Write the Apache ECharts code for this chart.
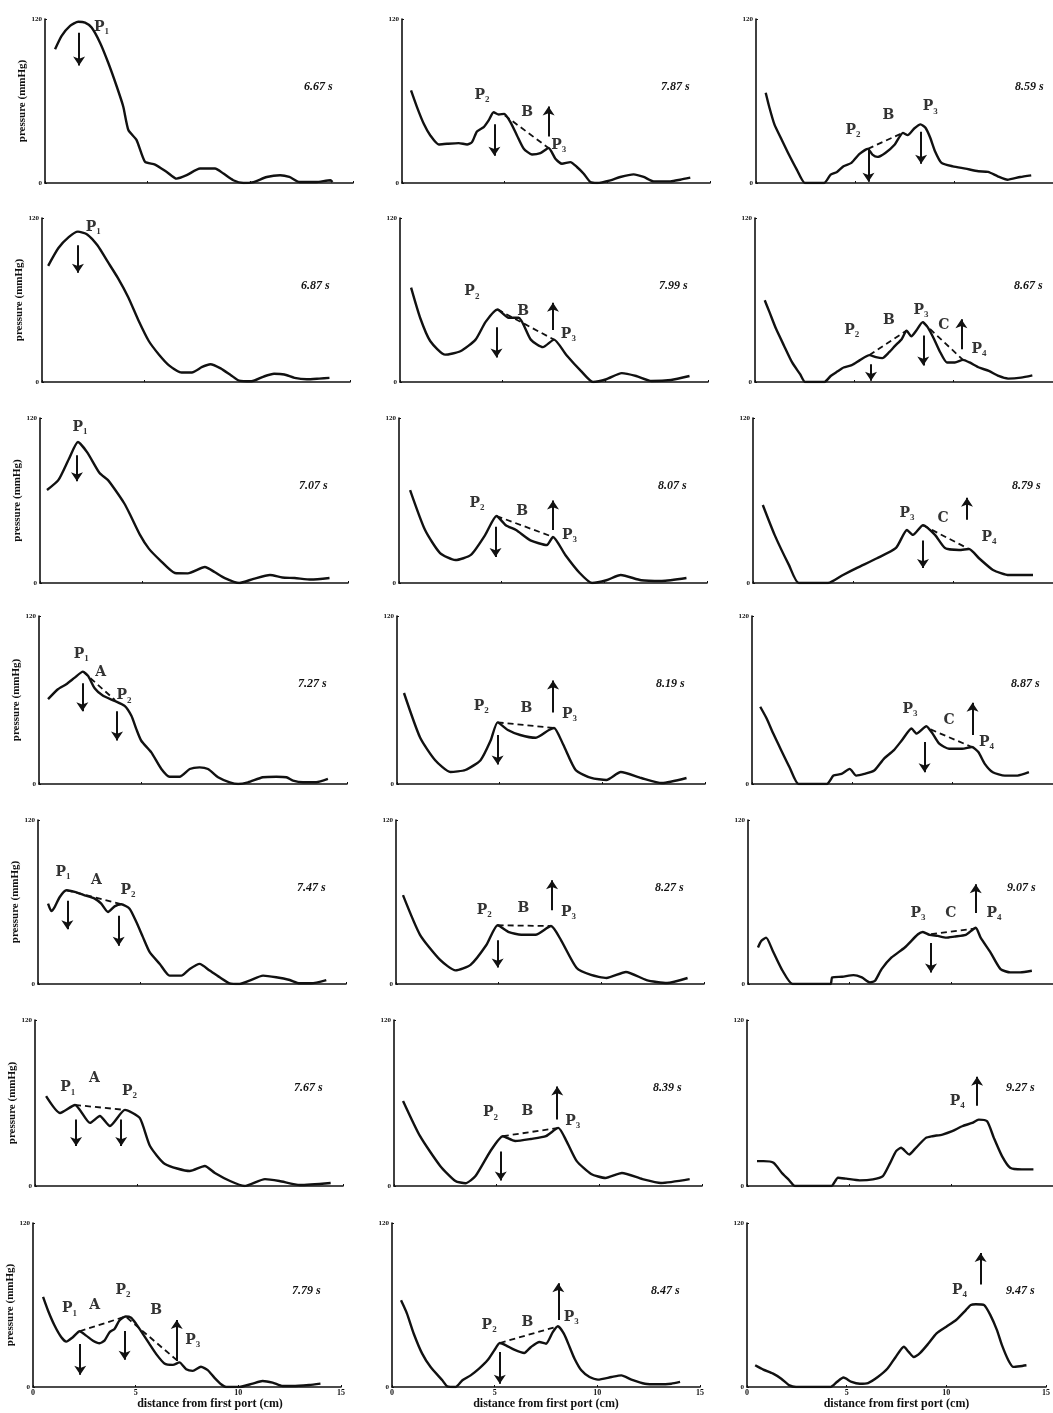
<!DOCTYPE html>
<html><head><meta charset="utf-8">
<script src="https://cdn.jsdelivr.net/npm/echarts@6/dist/echarts.min.js"></script>
<style>html,body{margin:0;padding:0;background:#fff}#c{width:1053px;height:1413px}</style>
</head><body><div id="c"></div>
<script>
// ---- times (panel titles), column by column ----
const times = ['6.67 s','6.87 s','7.07 s','7.27 s','7.47 s','7.67 s','7.79 s',
               '7.87 s','7.99 s','8.07 s','8.19 s','8.27 s','8.39 s','8.47 s',
               '8.59 s','8.67 s','8.79 s','8.87 s','9.07 s','9.27 s','9.47 s'];
const xTicks = [0, 5, 10, 15];
const yTicks = [0, 120];

// ---- pressure curves [distance cm, pressure mmHg] ----
const c667 = [[0.49,97.8],[0.81,107.6],[1.22,115],[1.62,118],[1.95,117.4],[2.27,113.8],[2.68,102.7],[3.08,88],[3.49,70.8],[3.81,56],[4.06,38.8],[4.46,31.4],[4.87,15.5],[5.36,13.5],[5.93,8.1],[6.41,3.2],[6.9,5.7],[7.55,10.6],[8.28,10.6],[8.69,6.9],[9.17,2],[9.66,0],[10.15,0.7],[10.8,4.4],[11.45,5.7],[11.9,4.4],[12.4,0.7],[13.2,0.7],[13.9,2],[14.0,0.7]];
const c687 = [[0.3,85],[0.8,98],[1.3,106],[1.75,110],[2.2,108],[2.7,100],[3.2,88],[3.7,76],[4.2,62],[4.7,45],[5.2,30],[5.7,20],[6.2,12],[6.8,7],[7.3,7],[7.8,11],[8.2,13],[8.7,10],[9.2,5],[9.6,1],[10.2,0.5],[10.8,4],[11.3,6],[11.8,5.5],[12.3,3],[12.9,2],[13.5,2.5],[14,3]];
const c707 = [[0.34,67.6],[0.9,75],[1.4,90],[1.85,102.5],[2.3,95],[2.9,80],[3.3,75],[3.65,68],[4.1,58],[4.38,50],[4.87,35],[5.3,25],[5.84,16.7],[6.57,7.3],[7.2,7],[8.03,11.6],[8.5,8],[9,3.6],[9.7,0],[10.4,3],[11.2,5.8],[11.8,4],[12.4,3.6],[13.2,2.5],[14.1,3.6]];
const c727 = [[0.44,60.6],[0.92,67.7],[1.33,71.3],[1.74,76],[2.14,80.3],[2.39,77.2],[2.71,68.4],[3.12,63],[3.68,59.4],[4.17,55.8],[4.5,48.7],[4.74,39.2],[4.98,30.9],[5.47,22.6],[5.96,10.7],[6.36,5.2],[6.85,5.2],[7.34,10.7],[7.82,11.9],[8.23,10.7],[8.72,4.8],[9.29,1.2],[9.7,0],[10.18,1.2],[10.9,4.8],[11.56,5.2],[12.05,4.8],[12.37,2.4],[12.86,1.2],[13.5,1.2],[14.07,3.6]];
const c747 = [[0.49,58.8],[0.65,53.4],[0.81,56.3],[1.06,63.7],[1.38,68.6],[1.79,67.4],[2.27,64.9],[2.76,62.5],[3.08,58.8],[3.41,52.7],[3.73,56.8],[4.06,58.3],[4.46,55.1],[4.79,45.3],[5.11,34.3],[5.44,23.3],[5.93,14.7],[6.41,6.1],[6.98,6.1],[7.39,11],[7.87,14.7],[8.36,9.8],[8.85,4.9],[9.33,0.5],[9.82,0],[10.3,2.4],[10.96,6.1],[11.6,4.9],[12.26,2.9],[12.74,0.5],[13.3,0.5],[14.04,2.9]];
const c767 = [[0.54,65],[1.22,52.8],[1.95,58.6],[2.68,45.6],[3.16,50.6],[3.65,43.4],[4.38,55],[5.1,49.2],[5.6,28.9],[6.33,15.9],[7.54,10.8],[8.27,14.5],[8.76,9.4],[9.5,3.6],[10.2,0],[11.2,5],[11.9,3.6],[12.9,0.7],[14.4,2.2]];
const c779 = [[0.49,65.9],[0.73,56],[1.05,45],[1.38,36.4],[1.62,33.2],[1.94,36.4],[2.27,40.8],[2.59,37.6],[2.92,33.9],[3.24,32],[3.48,33.9],[3.73,40.1],[3.97,42.5],[4.21,48.7],[4.51,51.6],[4.78,50.7],[5.02,46.2],[5.35,38.9],[5.67,31.5],[6.0,24.1],[6.4,17.2],[6.81,16.2],[7.13,18],[7.46,13],[7.78,11.8],[8.18,14.8],[8.51,12.3],[8.83,6.9],[9.16,2],[9.4,0],[10.05,0],[10.7,2.5],[11.18,4.4],[11.67,3.2],[12.16,0.7],[12.64,0.7],[13.45,1.5],[14.0,2.5]];
const c787 = [[0.44,67.7],[0.73,55.5],[1.06,43.3],[1.38,34.8],[1.79,28.2],[2.19,28.7],[2.76,29.2],[3.17,28.2],[3.41,29.9],[3.65,37.7],[3.98,40.9],[4.22,45.8],[4.46,51.8],[4.71,50.1],[4.98,50.6],[5.28,44.5],[5.6,34.8],[5.93,25.1],[6.33,20.9],[6.74,21.9],[7.14,25.6],[7.47,17.8],[7.79,14.1],[8.2,15.3],[8.52,11.7],[8.85,6.8],[9.17,0.7],[9.5,0],[10.15,1.9],[10.63,4.4],[11.28,6.3],[11.77,4.4],[12.26,1.2],[13.07,1.2],[13.55,2.4],[14.04,3.9]];
const c799 = [[0.54,69],[0.98,47],[1.47,30],[2.2,20],[2.94,22.5],[3.68,31],[4.17,44],[4.75,53],[5.29,47],[5.78,47],[6.37,31],[6.96,25.5],[7.5,31],[8.09,20],[8.82,8],[9.4,0],[10.05,2],[10.8,6.5],[11.5,4.4],[12.25,0.7],[13.2,1.5],[14.1,4.4]];
const c807 = [[0.54,67.6],[1.27,38.5],[2.0,21.8],[2.75,16.7],[3.5,20.4],[4.2,35],[4.75,48.7],[5.2,42],[5.7,38.5],[6.4,31],[7.2,27.6],[7.5,33.5],[8.1,20.4],[8.8,7.3],[9.4,0],[10.1,2],[10.8,5.8],[11.8,2],[12.8,1.5],[14.0,3.6]];
const c819 = [[0.34,65],[1.13,33],[1.86,17],[2.6,8.6],[3.33,10],[4.07,17],[4.56,31],[4.9,44],[5.4,38.6],[6.0,35],[6.76,33],[7.4,38.6],[7.65,40],[8.1,28],[8.7,10],[9.46,4.3],[10.2,2.9],[10.9,8.6],[11.9,4.3],[12.9,0.7],[14.1,4.3]];
const c827 = [[0.34,65],[1.17,36],[2.15,17.6],[2.9,10],[3.63,14],[4.4,28.5],[4.95,43],[5.5,38],[6.1,36],[6.8,36],[7.55,42.4],[8.04,32],[8.8,11.7],[9.5,6.6],[10.25,4.4],[11.2,8.8],[12.2,2.9],[13.2,0.7],[14.2,4.4]];
const c839 = [[0.44,61.5],[1.27,36],[2.25,14.5],[2.99,3.6],[3.48,2],[3.97,7.2],[4.7,25.3],[5.3,36],[5.9,32.5],[6.67,34],[7.4,36],[8.0,42],[8.4,32.5],[8.9,18],[9.6,8.7],[10.3,5.8],[11.1,9.4],[12.1,5],[13.0,2.2],[14.4,5]];
const c847 = [[0.44,63.4],[0.73,53.7],[1.06,39],[1.47,24.4],[1.88,14.6],[2.45,4.9],[2.69,0.5],[3.1,0],[3.43,4.9],[3.83,8.5],[4.24,13.4],[4.65,19.5],[4.98,26.8],[5.25,32.2],[5.55,30.5],[5.95,27.3],[6.44,24.9],[6.77,29.3],[7.18,32.9],[7.5,31.7],[7.83,40.2],[8.08,44.4],[8.37,39],[8.65,29.3],[8.89,20.7],[9.22,12.2],[9.62,7.3],[10.03,5.4],[10.69,7.3],[11.17,8.5],[11.66,5.4],[12.32,2.4],[12.97,2],[13.6,2.4],[14.03,3.7]];
const c859 = [[0.49,66.1],[0.68,55.1],[0.93,42.9],[1.25,33.1],[1.66,20.8],[2.06,9.8],[2.47,0],[2.95,0],[3.44,0],[3.77,6.1],[4.09,8.1],[4.42,12.2],[4.82,14.7],[5.23,21.3],[5.65,25],[5.88,20.8],[6.13,19.1],[6.53,22],[7.01,28.2],[7.42,36.7],[7.66,35],[7.99,39.9],[8.31,42.9],[8.56,40.4],[8.8,33.1],[9.04,23.3],[9.37,14.7],[9.94,12.2],[10.58,10.5],[11.23,8.6],[11.72,8.1],[12.21,4.9],[12.7,2.4],[13.34,4.4],[13.9,5.6]];
const c867 = [[0.49,59.8],[0.73,51.1],[1.06,38.9],[1.46,26.6],[1.87,14.3],[2.27,5.7],[2.52,0],[3.0,0],[3.49,0],[3.81,4.4],[4.14,7.6],[4.46,10.6],[4.87,12.3],[5.28,16],[5.76,19.7],[6.09,18.2],[6.41,17.5],[6.74,21.6],[7.06,26.6],[7.39,31.5],[7.63,37.6],[7.87,33.4],[8.12,37.6],[8.44,43.8],[8.69,40.1],[9.01,31.5],[9.33,21.6],[9.66,14.3],[10.06,14.3],[10.47,16.2],[10.8,14.3],[11.28,10.6],[11.77,8.1],[12.26,4.4],[12.74,2.5],[13.39,3.2],[13.96,4.9]];
const c879 = [[0.49,56.7],[1.08,35],[1.8,13],[2.29,0],[3.75,0],[4.5,5.8],[5.2,11],[6.2,18],[7.15,25.5],[7.7,38.5],[8.0,35],[8.5,42],[9.1,35],[9.6,25.5],[10.3,24],[10.8,24.7],[11.3,18],[12.0,9.5],[12.8,5.8],[14.0,5.8]];
const c887 = [[0.41,55.2],[0.73,46.8],[1.06,36],[1.46,24],[1.87,12],[2.32,0],[3.0,0],[3.73,0],[4.06,6],[4.46,7.2],[4.87,10.8],[5.19,6],[5.6,7.2],[6.09,9.6],[6.57,18],[7.06,24],[7.47,31.2],[7.95,39.6],[8.2,36],[8.69,41.3],[9.0,36],[9.33,28.8],[9.82,25.2],[10.47,25.2],[10.96,26.4],[11.28,22.8],[11.6,14.4],[12.0,8.4],[12.6,6],[13.23,6],[13.8,8.4]];
const c907 = [[0.49,26.7],[0.65,31.5],[0.89,33.9],[1.22,24.2],[1.7,9.7],[2.19,0],[3.17,0],[4.06,0],[4.14,4.8],[4.63,5.3],[5.19,6.5],[5.6,4.8],[6.0,1.2],[6.25,2.4],[6.57,10.9],[7.06,19.4],[7.71,26.7],[8.36,36.4],[8.6,38.1],[8.93,35.9],[9.33,35.2],[9.74,33.9],[10.15,34.7],[10.71,35.9],[11.2,41.2],[11.44,33.9],[11.93,23],[12.42,10.9],[12.9,8.5],[13.39,8.5],[13.96,9.7]];
const c927 = [[0.49,18],[0.81,18],[1.3,16.8],[1.7,9.6],[2.03,4.8],[2.35,0],[3.25,0],[4.14,0],[4.46,6],[4.87,5.3],[5.52,4.1],[6.17,4.8],[6.66,7.2],[6.98,15.6],[7.31,25.2],[7.55,27.6],[7.95,22.8],[8.28,27.6],[8.77,34.8],[9.09,36],[9.58,37.2],[10.06,39.6],[10.55,43.2],[11.04,45.6],[11.36,48],[11.77,46.8],[12.1,34.8],[12.5,21.6],[12.9,13.2],[13.47,12],[14.04,12]];
const c947 = [[0.41,15.9],[0.82,12.7],[1.31,9.8],[1.72,6.1],[2.13,1.2],[2.46,0],[3.28,0],[4.18,0],[4.51,3.7],[4.84,6.9],[5.25,3.7],[5.66,2.4],[6.07,2.9],[6.56,7.3],[7.05,13.5],[7.46,22],[7.87,29.4],[8.11,25.7],[8.36,22],[8.69,25],[9.1,31.8],[9.51,39.2],[10.0,44.1],[10.49,49],[10.98,56.3],[11.23,60],[11.48,60.5],[11.89,60],[12.21,52.6],[12.54,41.6],[12.79,30.6],[13.11,19.6],[13.36,14.7],[13.69,15.2],[14.02,15.9]];

// ---- dashed connecting lines between peaks (segments) ----
const d727 = [[[2.14,80.3],[3.7,60]]];
const d747 = [[[1.4,68.6],[4.06,58.3]]];
const d767 = [[[1.95,58.6],[4.38,55]]];
const d779 = [[[2.27,40.8],[4.51,51.6],[7.13,18]]];
const d787 = [[[5.0,49.5],[7.1,26]]];
const d799 = [[[4.75,53],[7.5,31]]];
const d807 = [[[4.75,48.7],[7.5,33.5]]];
const d819 = [[[4.9,44],[7.65,40]]];
const d827 = [[[4.95,43],[7.55,42.4]]];
const d839 = [[[5.3,36],[8.0,42]]];
const d847 = [[[5.25,32.2],[8.08,44.4]]];
const d859 = [[[5.65,25],[7.42,36.7]]];
const d867 = [[[5.76,19.7],[7.63,37.6]],[[8.44,43.8],[10.47,16.2]]];
const d879 = [[[8.5,42],[10.8,24.7]]];
const d887 = [[[8.9,39],[10.96,26.4]]];
const d907 = [[[9.0,36.4],[11.2,40.7]]];

// ---- arrows [distance, from pressure, to pressure] ----
const a667 = [[1.66,110,86]];
const a687 = [[1.75,100,80]];
const a707 = [[1.8,93,74]];
const a727 = [[2.11,72,52],[3.8,52,31]];
const a747 = [[1.43,61,40],[3.93,50,28]];
const a767 = [[2.0,48,29],[4.2,48,29]];
const a779 = [[2.3,31.5,9],[4.46,41,20],[7.0,19,49]];
const a787 = [[4.5,43,20],[7.14,34,56]];
const a799 = [[4.7,40,18],[7.45,38,58]];
const a807 = [[4.7,41,19],[7.5,38.5,60]];
const a819 = [[4.9,35,14],[7.6,51,74]];
const a827 = [[4.95,32,12],[7.6,54,76]];
const a839 = [[5.2,25,4],[7.95,48,72]];
const a847 = [[5.25,25.6,2.4],[8.1,49,76]];
const a859 = [[5.68,25,1],[8.34,37.5,14]];
const a867 = [[5.84,13,1],[8.47,34,12],[10.39,24,46]];
const a879 = [[8.5,31,11],[10.7,46,62]];
const a887 = [[8.6,30,8.4],[10.99,35,58]];
const a907 = [[9.0,30,8.5],[11.2,52,73]];
const a927 = [[11.28,58,79]];
const a947 = [[11.72,75,98]];

// ---- annotation letters [letter, subscript, distance, pressure] ----
const l667 = [['P','1',2.75,114]];
const l687 = [['P','1',2.5,113]];
const l707 = [['P','1',1.95,113]];
const l727 = [['P','1',2.06,92.6],['A','',3.0,79.6],['P','2',4.14,63]];
const l747 = [['P','1',1.22,82],['A','',2.84,76],['P','2',4.38,68.6]];
const l767 = [['P','1',1.6,71],['A','',2.9,78],['P','2',4.6,68.7]];
const l779 = [['P','1',1.78,57.3],['A','',3.0,59.8],['P','2',4.38,70.8],['B','',6.0,56],['P','3',7.78,34]];
const l787 = [['P','2',3.9,64],['B','',6.1,51.8],['P','3',7.63,27.5]];
const l799 = [['P','2',3.5,66],['B','',6.0,52],['P','3',8.2,35]];
const l807 = [['P','2',3.8,58],['B','',6.0,52],['P','3',8.3,35]];
const l819 = [['P','2',4.1,55.7],['B','',6.3,54],['P','3',8.4,50]];
const l827 = [['P','2',4.3,54],['B','',6.2,55.6],['P','3',8.4,52.7]];
const l839 = [['P','2',4.7,53],['B','',6.5,54],['P','3',8.7,47]];
const l847 = [['P','2',4.73,45],['B','',6.6,47.6],['P','3',8.73,51.2]];
const l859 = [['P','2',4.9,38.7],['B','',6.69,49.7],['P','3',8.8,55.8]];
const l867 = [['P','2',4.87,37.6],['B','',6.74,45],['P','3',8.36,52.4],['C','',9.5,41.3],['P','4',11.28,24.1]];
const l879 = [['P','3',7.7,51],['C','',9.5,47],['P','4',11.8,33.5]];
const l887 = [['P','3',7.87,53.3],['C','',9.82,45.6],['P','4',11.69,30]];
const l907 = [['P','3',8.36,52],['C','',9.98,52],['P','4',12.1,52]];
const l927 = [['P','4',10.31,61.2]];
const l947 = [['P','4',10.66,71]];

const curves = [c667,c687,c707,c727,c747,c767,c779,c787,c799,c807,c819,c827,c839,c847,c859,c867,c879,c887,c907,c927,c947];
const dashes = [[],[],[],d727,d747,d767,d779,d787,d799,d807,d819,d827,d839,d847,d859,d867,d879,d887,d907,[],[]];
const arrows = [a667,a687,a707,a727,a747,a767,a779,a787,a799,a807,a819,a827,a839,a847,a859,a867,a879,a887,a907,a927,a947];
const letters = [l667,l687,l707,l727,l747,l767,l779,l787,l799,l807,l819,l827,l839,l847,l859,l867,l879,l887,l907,l927,l947];

// ---- layout ----
const colLefts = [[45,42,40,39,38,35,33],[402,400,399,397,396,394,392],[756,755,753,752,748,747,747]];
const rowTops = [19,218,418,616,820,1020,1223];
const rowBottoms = [183,382,583,784,984,1186,1387];
const W = 308;
const INK = '#111';
const serif = '"Liberation Serif","DejaVu Serif",serif';
const slab = '"DejaVu Serif","Liberation Serif",serif';

const grid = [], xAxis = [], yAxis = [], series = [], graphic = [];
for (let c = 0; c < 3; c++) {
  for (let r = 0; r < 7; r++) {
    const i = c * 7 + r;
    const left = colLefts[c][r], top = rowTops[r], h = rowBottoms[r] - rowTops[r];
    grid.push({left: left, top: top, width: W, height: h});
    const bottomRow = r === 6;
    xAxis.push({
      gridIndex: i, type: 'value', min: xTicks[0], max: xTicks[xTicks.length-1], interval: 5,
      axisLine: {show: true, onZero: false, lineStyle: {color: INK, width: 1.6}},
      axisTick: {show: true, length: 2, inside: true, lineStyle: {color: INK}},
      axisLabel: {show: bottomRow, fontSize: 8, fontWeight: 'bold', fontFamily: serif, color: INK, margin: 2},
      splitLine: {show: false},
      name: bottomRow ? 'distance from first port (cm)' : '',
      nameLocation: 'middle', nameGap: 11,
      nameTextStyle: {fontSize: 12, fontWeight: 'bold', fontFamily: serif, color: INK,
        padding: c === 0 ? [0,0,0,46] : [0,0,0,0]}
    });
    yAxis.push({
      gridIndex: i, type: 'value', min: yTicks[0], max: yTicks[1], interval: 120,
      axisLine: {show: true, lineStyle: {color: INK, width: 1.6}},
      axisTick: {show: true, length: 2, inside: true, lineStyle: {color: INK}},
      axisLabel: {show: true, fontSize: 7, fontWeight: 'bold', fontFamily: serif, color: INK, margin: 3},
      splitLine: {show: false},
      name: c === 0 ? 'pressure (mmHg)' : '',
      nameLocation: 'middle', nameRotate: 90, nameGap: 12,
      nameTextStyle: {fontSize: 11, fontWeight: 'bold', fontFamily: serif, color: INK}
    });
    series.push({
      type: 'line', xAxisIndex: i, yAxisIndex: i, data: curves[i],
      symbol: 'none', smooth: 0.2, z: 3,
      lineStyle: {color: INK, width: 2.4},
      markLine: {
        silent: true, symbol: ['none', 'arrow'], symbolSize: 9,
        label: {show: false},
        lineStyle: {color: INK, width: 2, type: 'solid'},
        emphasis: {disabled: true},
        data: arrows[i].map(a => [{coord: [a[0], a[1]]}, {coord: [a[0], a[2]]}])
      }
    });
    dashes[i].forEach(seg => {
      series.push({
        type: 'line', xAxisIndex: i, yAxisIndex: i, data: seg,
        symbol: 'none', z: 2,
        lineStyle: {color: INK, width: 1.8, type: [6, 4]}
      });
    });
    series.push({
      type: 'scatter', xAxisIndex: i, yAxisIndex: i, symbolSize: 0, z: 4,
      data: letters[i].map(l => ({value: [l[2], l[3]], t: l[0], s: l[1]})),
      label: {
        show: true, position: 'inside',
        formatter: p => p.data.s ? '{m|' + p.data.t + '}{s|' + p.data.s + '}' : '{m|' + p.data.t + '}',
        rich: {
          m: {fontFamily: slab, fontWeight: 'bold', fontSize: 14, color: '#000', lineHeight: 18},
          s: {fontFamily: serif, fontWeight: 'bold', fontSize: 9, color: '#000', lineHeight: 18, verticalAlign: 'bottom'}
        }
      }
    });
    graphic.push({
      type: 'text', left: left + 276 - 17, top: top + 62,
      style: {text: times[i], font: 'italic bold 12px ' + serif, fill: INK}
    });
  }
}

const chart = echarts.init(document.getElementById('c'), null, {renderer: 'canvas'});
chart.setOption({
  animation: false,
  backgroundColor: '#fff',
  grid, xAxis, yAxis, series, graphic
});
</script>
</body></html>
